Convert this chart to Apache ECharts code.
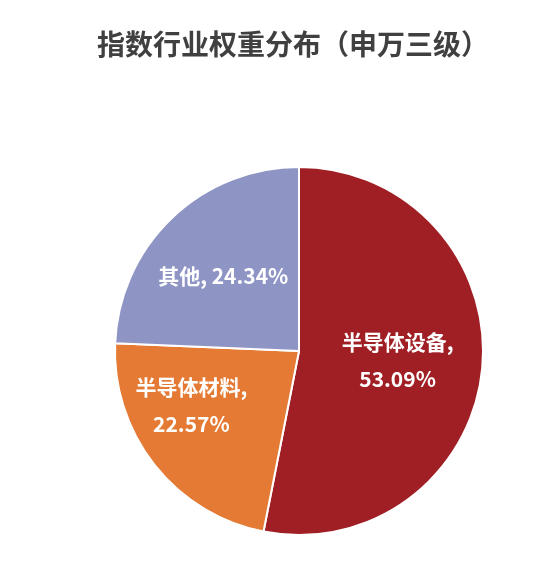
<!DOCTYPE html>
<html>
<head>
<meta charset="utf-8">
<script src="https://cdn.jsdelivr.net/npm/echarts@6/dist/echarts.min.js"></script>
<style>
    html, body {margin: 0; padding: 0; background: #fff;}
    #chart {width: 558px; height: 565px;}
</style>
</head>
<body>
<div id="chart"></div>
<script>
const titleText = '指数行业权重分布（申万三级）';
const categories = ['半导体设备', '半导体材料', '其他'];
const weights = [53.09, 22.57, 24.34];
const colors = ['#a01f24', '#e47a33', '#8e95c5'];

const font = '"Noto Sans CJK SC", "Noto Sans", sans-serif';

// Excel-style label placement, nudged from the default inside spot
const labelNudge = [[4, 0], [-33, -4], [-10, -6]];

function fmtLabel(p) {
    const pct = weights[p.dataIndex].toFixed(2) + '%';
    return p.name.length > 2 ? `${p.name},\n${pct}` : `${p.name}, ${pct}`;
}

const chart = echarts.init(document.getElementById('chart'), null, {renderer: 'canvas'});
chart.setOption({
    animation: false,
    color: colors,
    title: {
        text: titleText,
        left: 92,
        top: 25,
        textStyle: {
            fontFamily: font,
            fontSize: 28,
            fontWeight: 'bold',
            color: '#404040',
        },
    },
    series: [{
        type: 'pie',
        center: [299, 351],
        radius: [0, 184],
        startAngle: 90,
        clockwise: true,
        avoidLabelOverlap: false,
        itemStyle: {borderColor: '#fff', borderWidth: 2},
        emphasis: {disabled: true},
        label: {
            show: true,
            position: 'inside',
            formatter: fmtLabel,
            color: '#fff',
            fontFamily: font,
            fontSize: 21,
            fontWeight: 'bold',
            lineHeight: 37,
        },
        labelLine: {show: false},
        data: categories.map((name, i) => ({
            name,
            value: weights[i],
            label: {offset: labelNudge[i]},
        })),
    }],
});
</script>
</body>
</html>
